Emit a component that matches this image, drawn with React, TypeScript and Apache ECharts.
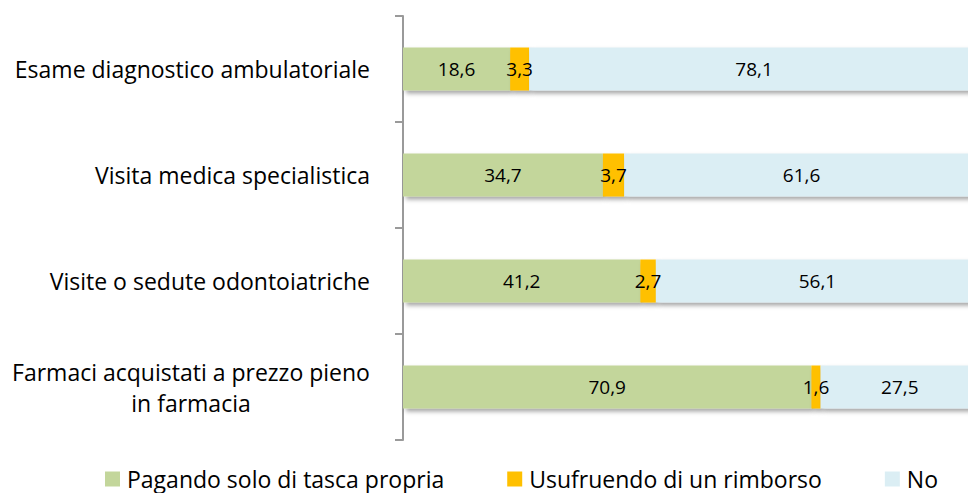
import React, { useEffect, useRef } from "react";
import * as echarts from "echarts";

const categories = [
  "Esame diagnostico ambulatoriale",
  "Visita medica specialistica",
  "Visite o sedute odontoiatriche",
  "Farmaci acquistati a prezzo pieno\nin farmacia",
];
const pagando = [18.6, 34.7, 41.2, 70.9];
const rimborso = [3.3, 3.7, 2.7, 1.6];
const no = [78.1, 61.6, 56.1, 27.5];
const seriesNames = ["Pagando solo di tasca propria", "Usufruendo di un rimborso", "No"];
const colors = ["#C3D69B", "#FFC000", "#DBEEF4"];

const FONT = "Open Sans";

export default function App() {
  const ref = useRef<HTMLDivElement>(null);
  useEffect(() => {
    if (!ref.current) return;
    const chart = echarts.init(ref.current, null, { renderer: "svg" });
    const fmt = (v: number) => v.toFixed(1).replace(".", ",");
    const mk = (name: string, data: number[], color: string) => ({
      name,
      type: "bar",
      stack: "total",
      data,
      barWidth: 43,
      itemStyle: {
        color,
        shadowColor: "rgba(0,0,0,0.35)",
        shadowBlur: 4,
        shadowOffsetX: 3,
        shadowOffsetY: 3,
      },
      label: {
        show: true,
        position: "inside",
        color: "#000",
        fontFamily: FONT,
        fontSize: 19,
        formatter: (p: any) => fmt(p.value),
      },
    });
    chart.setOption({
      animation: false,
      textStyle: { fontFamily: FONT },
      grid: { left: 403, right: 0, top: 16, bottom: 53, containLabel: false },
      xAxis: { type: "value", min: 0, max: 100, show: false },
      yAxis: {
        type: "category",
        inverse: true,
        data: categories,
        axisLine: { show: true, lineStyle: { color: "#9A9A9A", width: 2 } },
        axisTick: { show: true, length: 8, lineStyle: { color: "#9A9A9A", width: 2 } },
        axisLabel: {
          margin: 33,
          color: "#000",
          fontFamily: FONT,
          fontSize: 23,
          lineHeight: 31,
          formatter: (v: string) =>
            v.indexOf("\n") >= 0
              ? v
                  .split("\n")
                  .map((s) => "{c|" + s + "}")
                  .join("\n")
              : v,
          rich: {
            c: { width: 358, align: "center", fontSize: 23, fontFamily: FONT, color: "#000", lineHeight: 31 },
          },
        },
      },
      legend: {
        top: 466,
        left: 105,
        padding: 0,
        itemWidth: 15,
        itemHeight: 15,
        itemGap: 63,
        icon: "rect",
        textStyle: { color: "#000", fontSize: 23, lineHeight: 26, fontFamily: FONT, padding: [0, 0, 0, 2] },
        data: seriesNames,
      },
      series: [
        mk(seriesNames[0], pagando, colors[0]),
        mk(seriesNames[1], rimborso, colors[1]),
        mk(seriesNames[2], no, colors[2]),
      ],
    });
    return () => chart.dispose();
  }, []);
  return (
    <div style={{ position: "fixed", left: 0, top: 0, width: 968, height: 493, overflow: "hidden", background: "#fff" }}>
      <div ref={ref} style={{ width: 979, height: 493 }} />
    </div>
  );
}
